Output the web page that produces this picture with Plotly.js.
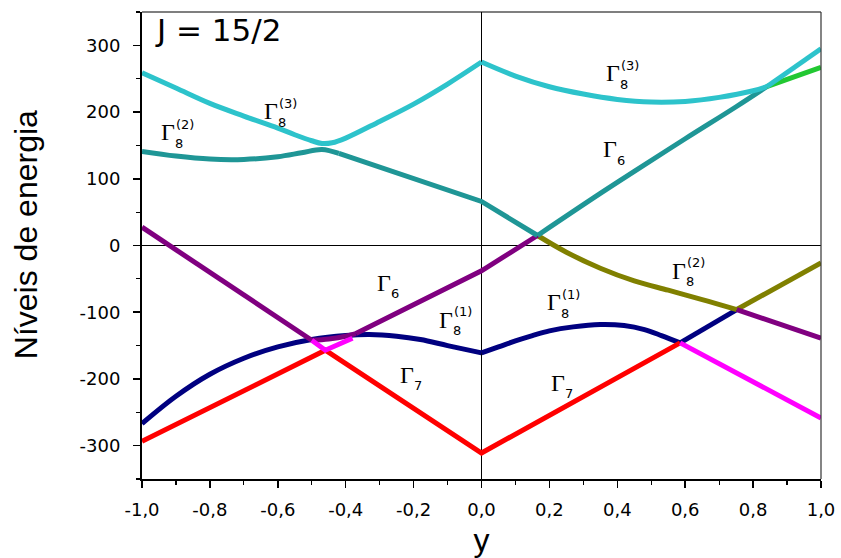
<!DOCTYPE html>
<html>
<head>
<meta charset="utf-8">
<script src="https://cdn.plot.ly/plotly-3.0.1.min.js"></script>
<style>
  html, body { margin: 0; padding: 0; background: #fff; }
  #chart { width: 841px; height: 558px; }
</style>
</head>
<body>
<div id="chart"></div>
<script>
// Crystal-field energy levels for J = 15/2 as a function of the parameter y

// Axis ticks (decimal comma, plain hyphen for negatives)
const xTickVals = [-1, -0.8, -0.6, -0.4, -0.2, 0, 0.2, 0.4, 0.6, 0.8, 1];
const xTickText = ['-1,0', '-0,8', '-0,6', '-0,4', '-0,2', '0,0', '0,2', '0,4', '0,6', '0,8', '1,0'];
const yTickVals = [-300, -200, -100, 0, 100, 200, 300];
const yTickText = ['-300', '-200', '-100', '0', '100', '200', '300'];

// Highest level (cyan)
const cyanLeftX  = [-1, -0.9, -0.8, -0.7, -0.6, -0.55, -0.5, -0.47, -0.44, -0.4, -0.3, -0.2, -0.1, 0];
const cyanLeftY  = [259, 236, 213, 194, 176, 166, 157, 153, 154, 161, 186, 212, 242, 275];
const cyanRightX = [0, 0.1, 0.2, 0.3, 0.4, 0.5, 0.6, 0.7, 0.8, 0.84];
const cyanRightY = [275, 254, 238, 227, 219, 215, 216, 222, 232, 238];
const cyanEndX   = [0.84, 1];
const cyanEndY   = [238, 295];

// Second level (teal) and its end piece (green)
const tealLeftX  = [-1, -0.9, -0.8, -0.7, -0.6, -0.53, -0.47, -0.42];
const tealLeftY  = [141, 134, 129.5, 129, 133, 139, 144, 138];
const tealMidX   = [-0.42, -0.2, 0, 0.165];
const tealMidY   = [138, 101, 66, 15];
const tealRightX = [0.165, 0.35, 0.45, 0.6, 0.75, 0.84];
const tealRightY = [15, 78, 111, 160, 208, 238];
const greenX     = [0.84, 0.9, 1];
const greenY     = [238, 249, 267];

// Purple level
const purpleAX = [-1, -0.5];
const purpleAY = [27.5, -142];
const purpleBX = [-0.5, -0.45, -0.4, -0.37];
const purpleBY = [-142, -140, -136, -132];
const purpleCX = [-0.37, 0, 0.165];
const purpleCY = [-132, -38, 15];
const purpleDX = [0.752, 1];
const purpleDY = [-96, -139];

// Olive level
const oliveAX = [0.165, 0.25, 0.35, 0.45, 0.55, 0.65, 0.752];
const oliveAY = [15, -10, -34, -53, -67, -81, -96];
const oliveBX = [0.752, 1];
const oliveBY = [-96, -26];

// Navy level
const navyLeftX  = [-1, -0.9, -0.8, -0.7, -0.6, -0.5, -0.4, -0.33, -0.25, -0.18, -0.1, 0];
const navyLeftY  = [-267, -226, -193, -169, -152, -141, -135, -133.5, -136, -141, -150, -161];
const navyRightX = [0, 0.05, 0.1, 0.15, 0.2, 0.27, 0.35, 0.42, 0.48, 0.53, 0.585];
const navyRightY = [-161, -152, -143, -135, -128, -122, -118.5, -120, -126, -135, -146];
const navyEndX   = [0.585, 0.752];
const navyEndY   = [-146, -96];

// Lowest level (red) and magenta pieces
const redX = [-1, -0.46, 0, 0.585];
const redY = [-293.5, -157, -311, -146];
const magentaLeftX  = [-0.5, -0.46, -0.38];
const magentaLeftY  = [-142, -157, -139];
const magentaRightX = [0.585, 1];
const magentaRightY = [-146, -258.5];

// Irreducible representation labels: Γ with subscript / superscript
const gammaLabels = [
  { x: -0.896, y: 170,   sub: '8', sup: '(2)' },
  { x: -0.593, y: 201,   sub: '8', sup: '(3)' },
  { x:  0.414, y: 258,   sub: '8', sup: '(3)' },
  { x:  0.405, y: 144,   sub: '6', sup: '' },
  { x:  0.608, y: -38,   sub: '8', sup: '(2)' },
  { x: -0.260, y: -56,   sub: '6', sup: '' },
  { x: -0.078, y: -111,  sub: '8', sup: '(1)' },
  { x:  0.240, y: -85,   sub: '8', sup: '(1)' },
  { x:  0.252, y: -206,  sub: '7', sup: '' },
  { x: -0.192, y: -193.5, sub: '7', sup: '' }
];

const C = {
  cyan: '#2DC3CB', teal: '#1F9696', green: '#22C832', purple: '#800080',
  olive: '#808000', navy: '#000080', red: '#FF0000', magenta: '#FF00FF'
};

function seg(x, y, color, shape) {
  return {
    x: x, y: y, type: 'scatter', mode: 'lines',
    line: { color: color, width: 5, shape: shape || 'linear' },
    hoverinfo: 'skip', showlegend: false
  };
}

const traces = [
  seg(navyLeftX, navyLeftY, C.navy, 'spline'),
  seg(navyRightX, navyRightY, C.navy, 'spline'),
  seg(navyEndX, navyEndY, C.navy),
  seg(redX, redY, C.red),
  seg(oliveAX, oliveAY, C.olive, 'spline'),
  seg(oliveBX, oliveBY, C.olive),
  seg(purpleAX, purpleAY, C.purple),
  seg(purpleBX, purpleBY, C.purple, 'spline'),
  seg(purpleCX, purpleCY, C.purple),
  seg(purpleDX, purpleDY, C.purple),
  seg(magentaLeftX, magentaLeftY, C.magenta),
  seg(magentaRightX, magentaRightY, C.magenta),
  seg(tealLeftX, tealLeftY, C.teal, 'spline'),
  seg(tealMidX, tealMidY, C.teal),
  seg(tealRightX, tealRightY, C.teal, 'spline'),
  seg(greenX, greenY, C.green, 'spline'),
  seg(cyanLeftX, cyanLeftY, C.cyan, 'spline'),
  seg(cyanRightX, cyanRightY, C.cyan, 'spline'),
  seg(cyanEndX, cyanEndY, C.cyan)
];

const sansFont = 'DejaVu Sans, Verdana, sans-serif';
const annotations = [];
gammaLabels.forEach(function (g) {
  annotations.push({
    x: g.x, y: g.y, xref: 'x', yref: 'y', text: 'Γ', showarrow: false,
    xanchor: 'right', yanchor: 'middle',
    font: { family: 'Liberation Serif, Times New Roman, serif', size: 24, color: '#000' }
  });
  annotations.push({
    x: g.x, y: g.y, xref: 'x', yref: 'y', text: g.sub, showarrow: false,
    xanchor: 'left', yanchor: 'middle', yshift: -11, xshift: -4,
    font: { family: sansFont, size: 13, color: '#000' }
  });
  if (g.sup) {
    annotations.push({
      x: g.x, y: g.y, xref: 'x', yref: 'y', text: g.sup, showarrow: false,
      xanchor: 'left', yanchor: 'middle', yshift: 8, xshift: -3,
      font: { family: sansFont, size: 13, color: '#000' }
    });
  }
});
annotations.push({
  x: 0.016, y: 0.962, xref: 'paper', yref: 'paper', text: 'J = 15/2',
  showarrow: false, xanchor: 'left', yanchor: 'middle',
  font: { family: sansFont, size: 31, color: '#000' }
});
// Vertical axis title
annotations.push({
  x: -0.171, y: 0.524, xref: 'paper', yref: 'paper', text: 'Níveis de energia',
  showarrow: false, textangle: -90, xanchor: 'center', yanchor: 'middle',
  font: { family: 'Liberation Sans, Arial, sans-serif', size: 32, color: '#000' }
});

const layout = {
  width: 841, height: 558,
  margin: { l: 142, r: 20, t: 12, b: 79, pad: 0 },
  paper_bgcolor: '#fff', plot_bgcolor: '#fff',
  showlegend: false,
  xaxis: {
    range: [-1, 1], tickmode: 'array', tickvals: xTickVals, ticktext: xTickText,
    ticks: 'outside', ticklen: 7, tickwidth: 1.5, tickcolor: '#000',
    minor: { tick0: -1, dtick: 0.1, ticks: 'outside', ticklen: 4, tickwidth: 1.2, tickcolor: '#000' },
    showline: true, linecolor: '#000', linewidth: 2, mirror: false,
    showgrid: false, zeroline: true, zerolinecolor: '#000', zerolinewidth: 1,
    ticklabelstandoff: 6,
    tickfont: { family: sansFont, size: 18, color: '#000' },
    title: { text: 'y', standoff: 12, font: { family: 'Liberation Sans, Arial, sans-serif', size: 32, color: '#000' } }
  },
  yaxis: {
    range: [-350, 350], tickmode: 'array', tickvals: yTickVals, ticktext: yTickText,
    ticks: 'outside', ticklen: 7, tickwidth: 1.5, tickcolor: '#000',
    minor: { tick0: -350, dtick: 50, ticks: 'outside', ticklen: 4, tickwidth: 1.2, tickcolor: '#000' },
    showline: true, linecolor: '#000', linewidth: 2, mirror: false,
    showgrid: false, zeroline: true, zerolinecolor: '#000', zerolinewidth: 1,
    ticklabelstandoff: 9,
    tickfont: { family: sansFont, size: 18, color: '#000' }
  },
  shapes: [
    { type: 'line', xref: 'paper', yref: 'paper', x0: 0, x1: 1, y0: 1, y1: 1, line: { color: '#000', width: 1.2 } },
    { type: 'line', xref: 'paper', yref: 'paper', x0: 1, x1: 1, y0: 0, y1: 1, line: { color: '#333', width: 1.2 } }
  ],
  annotations: annotations
};

Plotly.newPlot('chart', traces, layout, { staticPlot: true, displayModeBar: false });
</script>
</body>
</html>
